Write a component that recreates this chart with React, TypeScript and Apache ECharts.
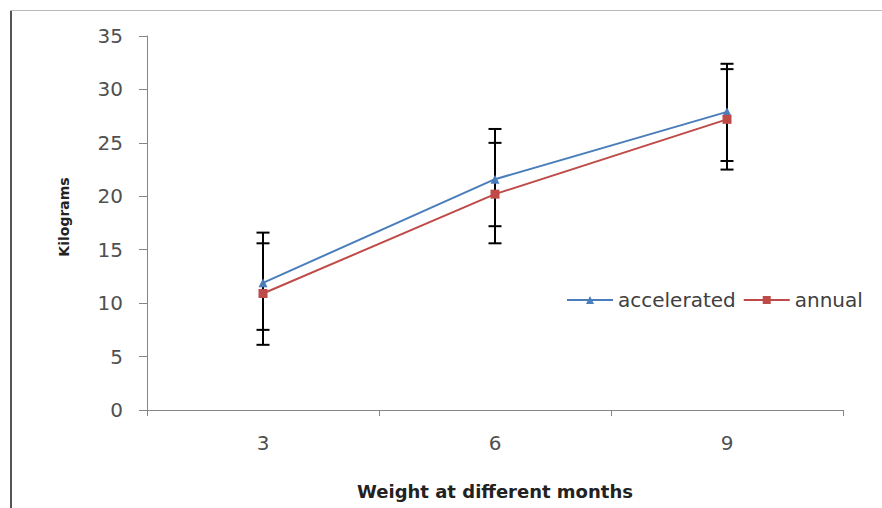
import React, { useEffect, useRef } from "react";
import * as echarts from "echarts";

const months = ["3", "6", "9"];
const accelerated = [11.9, 21.6, 27.9];
const annual = [10.9, 20.2, 27.2];
const accLow = [7.5, 17.2, 23.3];
const accHigh = [16.6, 26.3, 32.4];
const annLow = [6.1, 15.6, 22.5];
const annHigh = [15.6, 25.0, 31.9];

const FONT = "DejaVu Sans";

function errorSeries(name: string, low: number[], high: number[]) {
  return {
    type: "custom",
    name,
    z: 3,
    silent: true,
    data: low.map((l, i) => [i, l, high[i]]),
    renderItem: (params: any, api: any) => {
      const x = api.value(0);
      const lo = api.coord([x, api.value(1)]);
      const hi = api.coord([x, api.value(2)]);
      const w = 6.5;
      const style = { stroke: "#000", lineWidth: 2 };
      return {
        type: "group",
        children: [
          { type: "line", shape: { x1: lo[0], y1: lo[1], x2: hi[0], y2: hi[1] }, style },
          { type: "line", shape: { x1: lo[0] - w, y1: lo[1], x2: lo[0] + w, y2: lo[1] }, style },
          { type: "line", shape: { x1: hi[0] - w, y1: hi[1], x2: hi[0] + w, y2: hi[1] }, style },
        ],
      };
    },
  };
}

export default function App() {
  const ref = useRef<HTMLDivElement>(null);
  useEffect(() => {
    if (!ref.current) return;
    const chart = echarts.init(ref.current, null, { renderer: "svg" });
    chart.setOption({
      animation: false,
      backgroundColor: "#fff",
      textStyle: { fontFamily: FONT },
      graphic: [
        { type: "line", shape: { x1: 11, y1: 10, x2: 11, y2: 508 }, style: { stroke: "#555", lineWidth: 2 } },
        { type: "line", shape: { x1: 10, y1: 10.5, x2: 882, y2: 10.5 }, style: { stroke: "#bbb", lineWidth: 1 } },
      ],
      grid: { left: 147, right: 39, top: 36, bottom: 98 },
      legend: {
        left: 561,
        top: 285,
        itemWidth: 46,
        itemHeight: 10,
        itemGap: 7,
        textStyle: { fontSize: 20, color: "#404040", fontFamily: FONT },
        data: [{ name: "accelerated" }, { name: "annual" }],
      },
      xAxis: {
        type: "category",
        data: months,
        boundaryGap: true,
        name: "Weight at different months",
        nameLocation: "middle",
        nameGap: 72,
        nameTextStyle: { fontSize: 18, fontWeight: "bold", color: "#222", fontFamily: FONT },
        axisLine: { lineStyle: { color: "#868686", width: 1 } },
        axisTick: { show: true, length: 6, lineStyle: { color: "#868686" } },
        axisLabel: { fontSize: 20, color: "#505050", margin: 23, fontFamily: FONT },
      },
      yAxis: {
        type: "value",
        min: 0,
        max: 35,
        interval: 5,
        name: "Kilograms",
        nameLocation: "middle",
        nameGap: 76,
        nameRotate: 90,
        nameTextStyle: { fontSize: 14, fontWeight: "bold", color: "#222", fontFamily: FONT, padding: [0, 0, 0, 12] },
        axisLine: { show: true, lineStyle: { color: "#868686", width: 1 } },
        axisTick: { show: true, length: 8, lineStyle: { color: "#868686" } },
        axisLabel: { fontSize: 20, color: "#505050", margin: 24, fontFamily: FONT },
        splitLine: { show: false },
      },
      series: [
        {
          type: "line",
          name: "accelerated",
          data: accelerated,
          symbol: "triangle",
          symbolSize: 9,
          z: 4,
          color: "#4a7ebb",
          lineStyle: { color: "#4a7ebb", width: 2 },
          itemStyle: { color: "#4a7ebb" },
        },
        {
          type: "line",
          name: "annual",
          data: annual,
          symbol: "rect",
          symbolSize: 9,
          z: 4,
          color: "#be4b48",
          lineStyle: { color: "#be4b48", width: 2 },
          itemStyle: { color: "#be4b48" },
        },
        errorSeries("accelerated", accLow, accHigh),
        errorSeries("annual", annLow, annHigh),
      ],
    });
    return () => chart.dispose();
  }, []);
  return <div ref={ref} style={{ width: 882, height: 508, position: "absolute", left: 0, top: 0 }} />;
}
